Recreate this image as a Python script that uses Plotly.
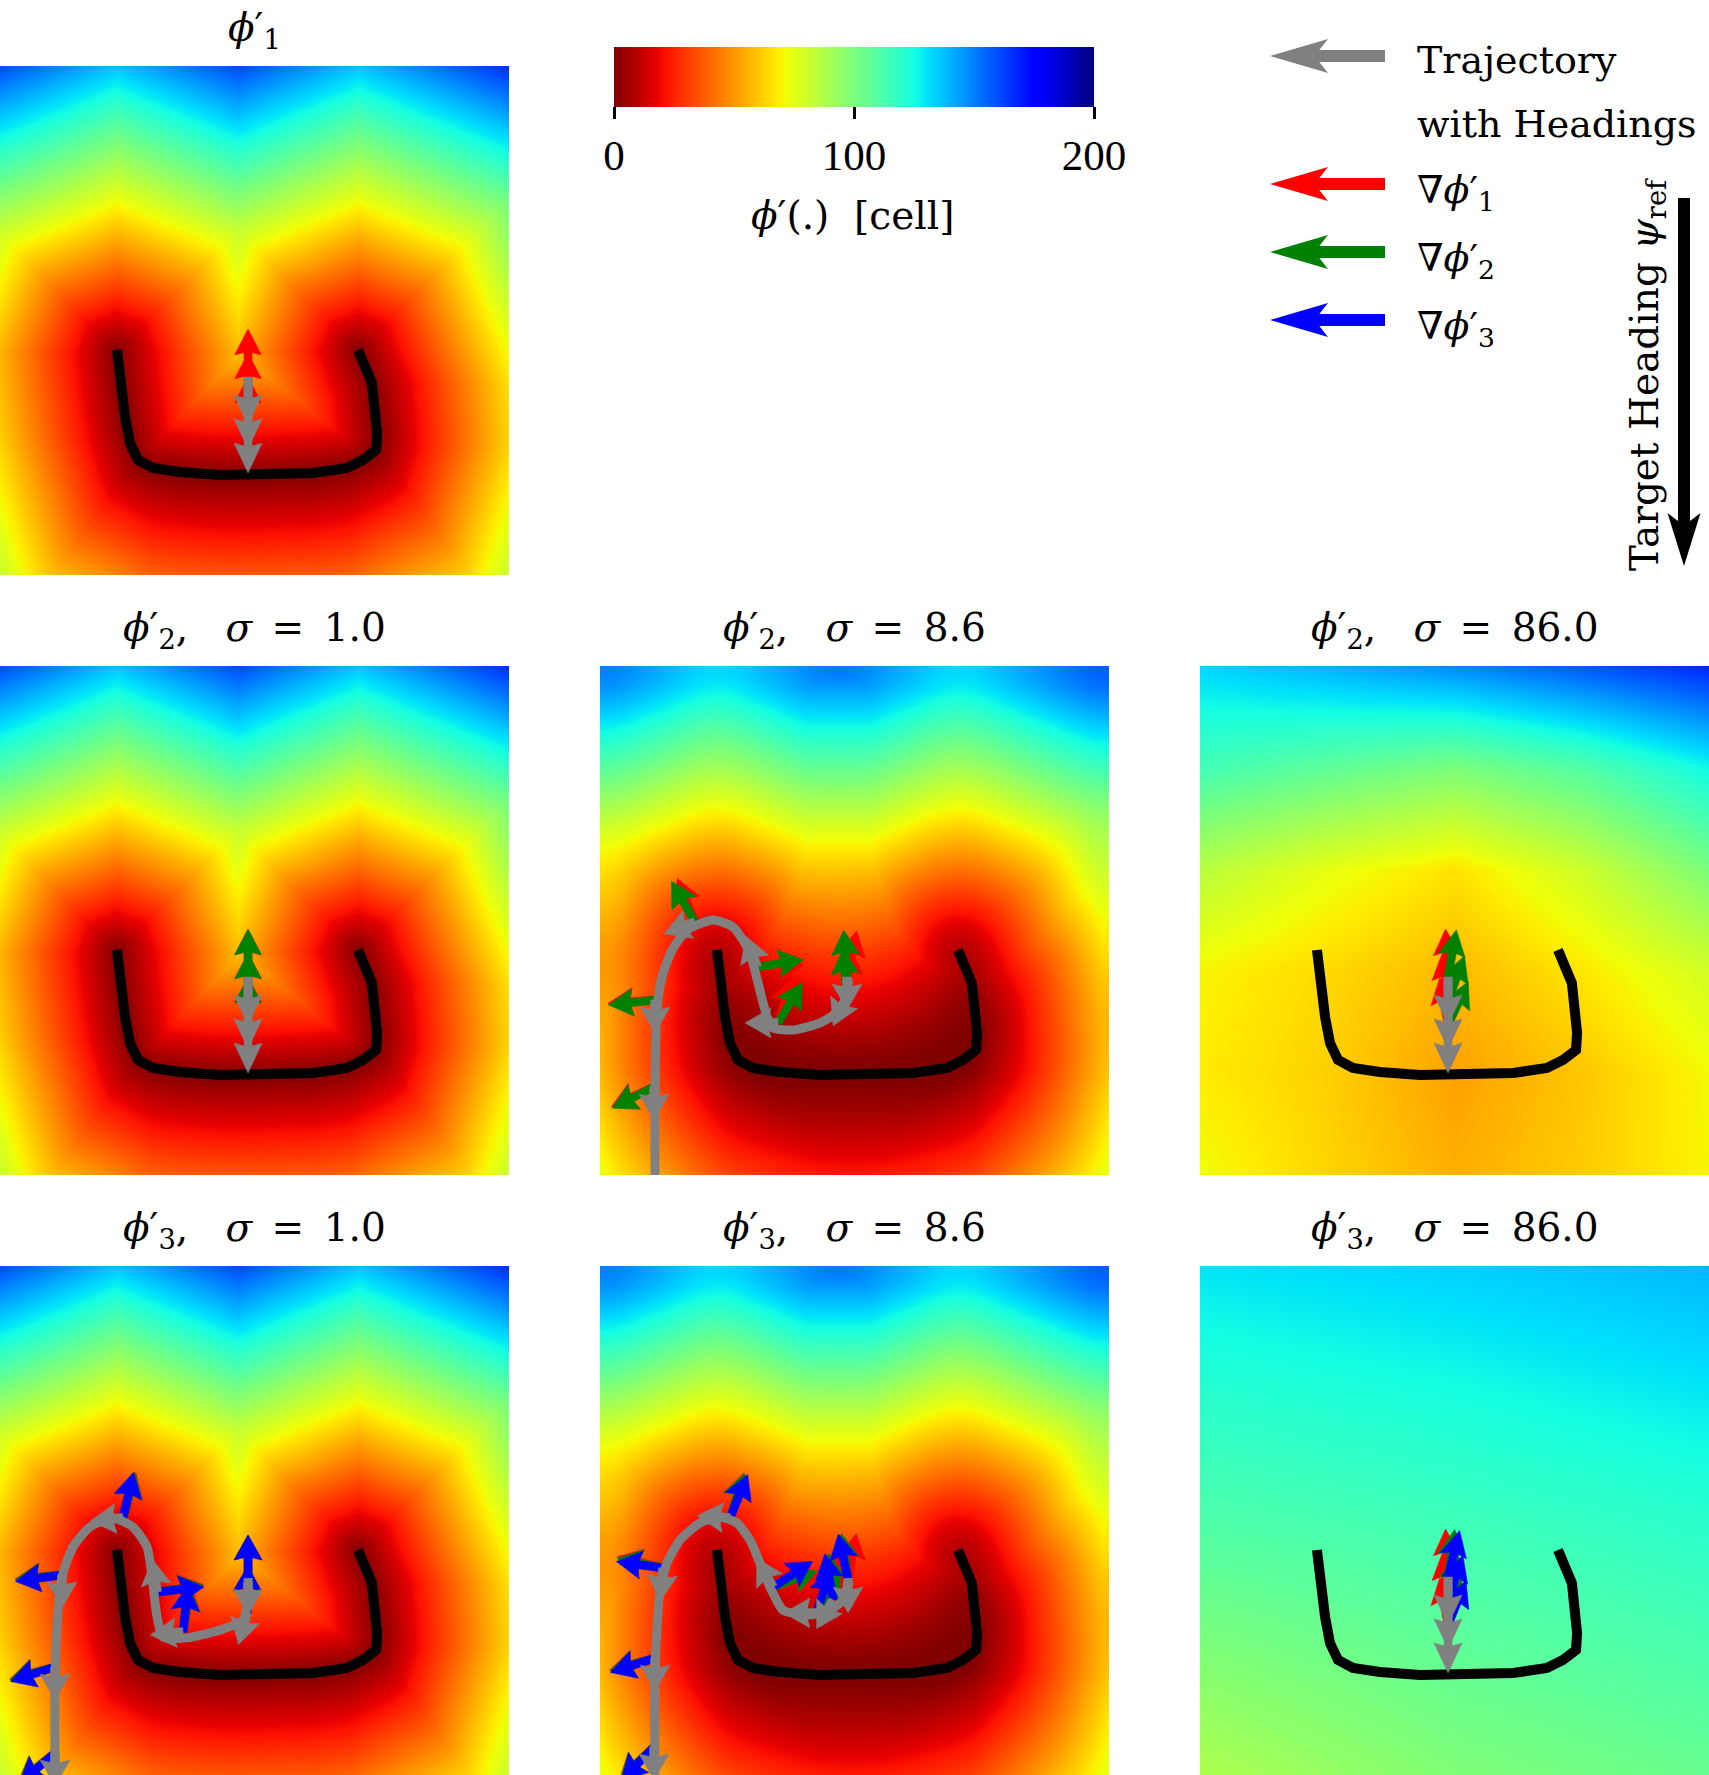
import numpy as np
import plotly.graph_objects as go

# ---------------- canvas / layout constants ----------------
FIG_W, FIG_H = 1709, 1775
PANEL_PX = 509
COL_X0 = [0, 600, 1200]
ROW_Y0 = [66, 666, 1266]
MAP_CELLS = 245.0                 # map extent shown in every panel [cell]
PX = PANEL_PX / MAP_CELLS         # pixels per cell
SERIF = "DejaVu Serif, serif"
NUMFONT = "Liberation Serif, DejaVu Serif, serif"
FS = 39

# ---------------- data ----------------
# U-shaped reference curve (cells, y pointing down)
U_X = [56.3, 57.8, 60.2, 62.6, 66.4, 73.6, 86.6, 105.9, 118.9, 150.7, 167.0, 174.7, 181.0, 181.5, 179.0, 172.3]
U_Y = [136.7, 152.6, 168.9, 181.5, 189.6, 193.5, 195.4, 196.9, 196.9, 195.9, 193.5, 189.6, 184.8, 176.6, 152.6, 136.7]

# short trajectory at the goal
SHORT_TRAJ_X = [119.4, 119.4]
SHORT_TRAJ_Y = [149.7, 172.8]
SHORT_X = [119.4, 119.4, 119.4]
SHORT_Y = [149.7, 161.2, 172.8]
SHORT_HEAD = [270, 270, 270]

P11_RED = [90, 90, 90]
P21_RED = [90, 90, 90]
P21_GREEN = [90, 90, 90]
P23_RED = [93, 97, 100]
P23_GREEN = [80, 70, 65]
P33_RED = [93, 97, 100]
P33_GREEN = [82, 78, 74]
P33_BLUE = [76, 72, 68]

# phi2, sigma = 8.6
P22_TRAJ_X = [119.4, 119.4, 115.5, 105.9, 92.9, 83.3, 80.4, 73.6, 70.8, 64.0, 54.4, 41.9, 34.7, 29.8, 27.4, 26.5, 26.5]
P22_TRAJ_Y = [150.2, 157.4, 165.6, 171.8, 175.2, 174.2, 168.9, 143.0, 135.3, 125.6, 122.3, 127.1, 136.7, 149.7, 165.6, 200.7, 250.0]
P22_X = [26.0, 26.5, 45.7, 75.6, 85.7, 118.9, 118.9]
P22_Y = [202.6, 160.8, 123.2, 144.9, 171.8, 149.7, 158.8]
P22_HEAD = [270, 270, 201, 110, 180, 270, 245]
P22_RED = [205, 184, 112, 2, 72, 78, 85]
P22_GREEN = [207, 186, 120, 9, 59, 94, 95]

# phi3, sigma = 1.0
P31_TRAJ_X = [119.4, 119.4, 117.0, 105.9, 90.0, 78.5, 75.6, 73.2, 70.8, 64.0, 54.4, 43.3, 35.1, 30.3, 27.9, 26.5, 26.5]
P31_TRAJ_Y = [150.2, 159.3, 170.4, 175.2, 179.0, 178.6, 168.9, 149.7, 135.3, 125.6, 121.3, 125.6, 135.3, 147.8, 165.6, 200.7, 250.0]
P31_X = [26.5, 26.5, 29.8, 59.2, 75.6, 88.1, 119.4, 118.9]
P31_Y = [234.4, 193.0, 148.7, 121.3, 156.9, 176.2, 152.1, 167.0]
P31_HEAD = [270, 270, 270, 185, 98, 185, 270, 255]
P31_RED = [218, 195, 185, 74, 9, 80, 90, 89]
P31_GREEN = [219, 196, 186, 75, 8, 82, 90, 89]
P31_BLUE = [221, 198, 188, 77, 6, 84, 90, 89]

# phi3, sigma = 8.6
P32_TRAJ_X = [119.4, 119.4, 117.0, 109.3, 99.6, 88.1, 81.8, 77.0, 72.2, 65.9, 57.8, 48.1, 38.5, 32.2, 28.9, 26.5, 26.5]
P32_TRAJ_Y = [150.2, 152.6, 160.8, 166.5, 168.0, 165.6, 154.5, 143.0, 131.9, 123.7, 120.8, 123.7, 131.9, 143.0, 155.9, 193.0, 250.0]
P32_X = [26.0, 26.5, 30.3, 62.6, 83.3, 104.4, 119.4, 112.2]
P32_Y = [231.5, 188.7, 145.4, 121.3, 154.5, 167.0, 151.1, 160.8]
P32_HEAD = [270, 270, 265, 176, 120, 180, 270, 240]
P32_RED = [223, 195, 166, 73, 15, 55, 80, 85]
P32_GREEN = [224, 196, 168, 72, 20, 60, 98, 95]
P32_BLUE = [226, 198, 172, 68, 33, 73, 102, 100]

# strongly smoothed fields (coarse grids, cells)
C_X = [0, 61.25, 122.5, 183.75, 245]
C_Y = [0, 49, 98, 147, 196, 245]
C_Z = [[133, 140, 148, 158, 168],
       [114, 107, 100, 110, 126],
       [85, 74, 66, 80, 100],
       [70, 64, 57, 67, 79],
       [68, 62, 52, 60, 71],
       [72, 63, 55, 61, 70]]
D_X = [0, 122.5, 245]
D_Y = [0, 122.5, 245]
D_Z = [[130, 134, 139],
       [111, 115, 120],
       [88, 99, 105]]

# field-model parameters (distance to U curve on 8-connected grid)
S_DOWN = 0.75        # compression of distance below the curve
SOFT_SIGMA = 26.0    # effective soft-min width for the sigma = 8.6 panels [cell]
SOFT_Z = 2.0
BLUR_SIGMA = 8.6     # smoothing of the sigma = 8.6 panels [cell]

TICKS = [0, 100, 200]
SP = "\u00a0"
TITLES = ["<i>ϕ</i>′<sub>1</sub>"] + [
    "<i>ϕ</i>′<sub>%d</sub>,%s<i>σ</i>\u2002=\u2002%s" % (k, SP * 3, s)
    for k in (2, 3) for s in ("1.0", "8.6", "86.0")]

# ---------------- field computation ----------------
N = 170
CELL = MAP_CELLS / N
centers = (np.arange(N) + 0.5) * CELL


def sample_curve(xs, ys, step=0.7):
    pts, ws = [], []
    for i in range(len(xs) - 1):
        x0, y0, x1, y1 = xs[i], ys[i], xs[i + 1], ys[i + 1]
        L = np.hypot(x1 - x0, y1 - y0)
        n = max(1, int(np.ceil(L / step)))
        t = (np.arange(n) + 0.5) / n
        pts.append(np.c_[x0 + (x1 - x0) * t, y0 + (y1 - y0) * t])
        ws.append(np.full(n, L / n))
    return np.vstack(pts), np.concatenate(ws)


P, Wt = sample_curve(U_X, U_Y)
GX, GY = np.meshgrid(centers, centers)
gx, gy = GX.ravel(), GY.ravel()
M = gx.size
dmin = np.empty(M)
soft = np.empty(M)
k2 = np.sqrt(2) - 1
for s in range(0, M, 3000):
    e = min(M, s + 3000)
    dx = np.abs(gx[s:e, None] - P[None, :, 0])
    dy = gy[s:e, None] - P[None, :, 1]
    ady = np.where(dy > 0, dy * S_DOWN, -dy)
    d = np.maximum(dx, ady) + k2 * np.minimum(dx, ady)
    m = d.min(axis=1)
    dmin[s:e] = m
    ssum = (Wt[None, :] * np.exp(-(d - m[:, None]) / SOFT_SIGMA)).sum(axis=1)
    soft[s:e] = m - SOFT_SIGMA * np.log(ssum / (SOFT_Z * SOFT_SIGMA))


def gblur(Z, sig_cells):
    r = int(3 * sig_cells)
    k = np.exp(-0.5 * (np.arange(-r, r + 1) / sig_cells) ** 2)
    k /= k.sum()
    Zp = np.pad(Z, ((0, 0), (r, r)), mode="reflect")
    Z1 = np.array([np.convolve(row, k, mode="valid") for row in Zp])
    Zp = np.pad(Z1, ((r, r), (0, 0)), mode="reflect")
    return np.array([np.convolve(col, k, mode="valid") for col in Zp.T]).T


A2 = dmin.reshape(N, N)
FIELD_A = np.round(A2, 1)
FIELD_B = np.round(np.clip(np.minimum(gblur(A2, BLUR_SIGMA / CELL), soft.reshape(N, N)), 0, None), 1)


# ---------------- helpers ----------------
def jet_r():
    red = [(0, 0), (0.35, 0), (0.66, 1), (0.89, 1), (1, 0.5)]
    green = [(0, 0), (0.125, 0), (0.375, 1), (0.64, 1), (0.91, 0), (1, 0)]
    blue = [(0, 0.5), (0.11, 1), (0.34, 1), (0.65, 0), (1, 0)]
    ts = sorted(set([p for p, _ in red + green + blue]))
    f = lambda seg, t: np.interp(t, [p for p, _ in seg], [v for _, v in seg])
    sc = [[1 - t, "rgb(%d,%d,%d)" % (round(f(red, t) * 255), round(f(green, t) * 255), round(f(blue, t) * 255))] for t in ts]
    sc.sort(key=lambda a: a[0])
    return sc


def arrow_local(L, sw, hw, hl, notch):
    return [(0, sw / 2), (L - hl * notch, sw / 2), (L - hl, hw / 2), (L, 0),
            (L - hl, -hw / 2), (L - hl * notch, -sw / 2), (0, -sw / 2), (0, sw / 2)]


def arrow_poly(x, y, ang, L, sw, hw, hl, notch=0.9):
    a = np.deg2rad(ang)
    ux, uy = np.cos(a), -np.sin(a)
    px, py = -uy, ux
    return [(x + ux * u + px * v, y + uy * u + py * v) for u, v in arrow_local(L, sw, hw, hl, notch)]


def arrows_trace(xs, ys, angs, color, L, sw, hw, hl, xa, ya):
    X, Y = [], []
    for x, y, a in zip(xs, ys, angs):
        for px_, py_ in arrow_poly(x, y, a, L / PX, sw / PX, hw / PX, hl / PX):
            X.append(px_)
            Y.append(py_)
        X.append(None)
        Y.append(None)
    return go.Scatter(x=X, y=Y, mode="lines", fill="toself", fillcolor=color,
                      line=dict(width=0.5, color=color), hoverinfo="skip",
                      showlegend=False, xaxis=xa, yaxis=ya)


RED, GREEN, BLUE, GRAY = "rgb(255,0,0)", "rgb(0,128,0)", "rgb(0,0,255)", "rgb(128,128,128)"

panels = [
    dict(r=0, c=0, field="A", traj=(SHORT_TRAJ_X, SHORT_TRAJ_Y), pts=(SHORT_X, SHORT_Y, SHORT_HEAD),
         grads=[(RED, P11_RED)], short=True),
    dict(r=1, c=0, field="A", traj=(SHORT_TRAJ_X, SHORT_TRAJ_Y), pts=(SHORT_X, SHORT_Y, SHORT_HEAD),
         grads=[(RED, P21_RED), (GREEN, P21_GREEN)], short=True),
    dict(r=1, c=1, field="B", traj=(P22_TRAJ_X, P22_TRAJ_Y), pts=(P22_X, P22_Y, P22_HEAD),
         grads=[(RED, P22_RED), (GREEN, P22_GREEN)], short=False),
    dict(r=1, c=2, field="C", traj=(SHORT_TRAJ_X, SHORT_TRAJ_Y), pts=(SHORT_X, SHORT_Y, SHORT_HEAD),
         grads=[(RED, P23_RED), (GREEN, P23_GREEN)], short=True),
    dict(r=2, c=0, field="A", traj=(P31_TRAJ_X, P31_TRAJ_Y), pts=(P31_X, P31_Y, P31_HEAD),
         grads=[(RED, P31_RED), (GREEN, P31_GREEN), (BLUE, P31_BLUE)], short=False),
    dict(r=2, c=1, field="B", traj=(P32_TRAJ_X, P32_TRAJ_Y), pts=(P32_X, P32_Y, P32_HEAD),
         grads=[(RED, P32_RED), (GREEN, P32_GREEN), (BLUE, P32_BLUE)], short=False),
    dict(r=2, c=2, field="D", traj=(SHORT_TRAJ_X, SHORT_TRAJ_Y), pts=(SHORT_X, SHORT_Y, SHORT_HEAD),
         grads=[(RED, P33_RED), (GREEN, P33_GREEN), (BLUE, P33_BLUE)], short=True),
]

fig = go.Figure()
layout = dict(width=FIG_W, height=FIG_H, margin=dict(l=0, r=0, t=0, b=0),
              paper_bgcolor="white", plot_bgcolor="white", showlegend=False)
annotations = []
shapes = []

for i, p in enumerate(panels, start=1):
    xa = "x" if i == 1 else "x%d" % i
    ya = "y" if i == 1 else "y%d" % i
    x0 = COL_X0[p["c"]]
    y0 = ROW_Y0[p["r"]]
    layout["xaxis" if i == 1 else "xaxis%d" % i] = dict(
        domain=[x0 / FIG_W, (x0 + PANEL_PX) / FIG_W], range=[0, MAP_CELLS], visible=False,
        fixedrange=True, anchor=ya)
    layout["yaxis" if i == 1 else "yaxis%d" % i] = dict(
        domain=[1 - (y0 + PANEL_PX) / FIG_H, 1 - y0 / FIG_H], range=[MAP_CELLS, 0], visible=False,
        fixedrange=True, anchor=xa)
    f = p["field"]
    if f == "A":
        hm = go.Heatmap(x=centers, y=centers, z=FIELD_A, coloraxis="coloraxis", zsmooth="best")
    elif f == "B":
        hm = go.Heatmap(x=centers, y=centers, z=FIELD_B, coloraxis="coloraxis", zsmooth="best")
    elif f == "C":
        hm = go.Heatmap(x=C_X, y=C_Y, z=C_Z, coloraxis="coloraxis", zsmooth="best")
    else:
        hm = go.Heatmap(x=D_X, y=D_Y, z=D_Z, coloraxis="coloraxis", zsmooth="best")
    hm.update(xaxis=xa, yaxis=ya, hoverinfo="skip")
    fig.add_trace(hm)
    fig.add_trace(go.Scatter(x=U_X, y=U_Y, mode="lines", line=dict(color="black", width=10),
                             hoverinfo="skip", xaxis=xa, yaxis=ya))
    bx, by, bh = p["pts"]
    if p["short"]:
        gL, gsw, ghw, ghl = 48, 8, 27, 26
        hL, hsw, hhw, hhl = 48, 8, 28, 30
    else:
        gL, gsw, ghw, ghl = 47, 8, 28, 25
        hL, hsw, hhw, hhl = 33, 9, 30, 26
    for col, angs in p["grads"]:
        fig.add_trace(arrows_trace(bx, by, angs, col, gL, gsw, ghw, ghl, xa, ya))
    tx, ty = p["traj"]
    fig.add_trace(go.Scatter(x=tx, y=ty, mode="lines", line=dict(color=GRAY, width=9, shape="spline", smoothing=0.6),
                             hoverinfo="skip", xaxis=xa, yaxis=ya))
    fig.add_trace(arrows_trace(bx, by, bh, GRAY, hL, hsw, hhw, hhl, xa, ya))
    annotations.append(dict(text=TITLES[i - 1], x=(x0 + PANEL_PX / 2) / FIG_W, y=1 - (y0 - 36) / FIG_H,
                            xref="paper", yref="paper", xanchor="center", yanchor="middle",
                            showarrow=False, font=dict(family=SERIF, size=FS, color="black")))

layout["coloraxis"] = dict(
    colorscale=jet_r(), cmin=0, cmax=200,
    colorbar=dict(orientation="h", x=854 / FIG_W, xanchor="center", y=1 - 47 / FIG_H, yanchor="top",
                  len=480, lenmode="pixels", thickness=60, thicknessmode="pixels",
                  outlinewidth=0, ticks="outside", ticklen=12, tickwidth=3, tickcolor="black",
                  tickvals=TICKS, ticktext=[str(t) for t in TICKS],
                  tickfont=dict(family=NUMFONT, size=43, color="black"), xpad=0, ypad=0))
annotations.append(dict(text="<i>ϕ</i>′(.)" + SP * 2 + "[cell]", x=852 / FIG_W, y=1 - 215 / FIG_H,
                        xref="paper", yref="paper", xanchor="center", yanchor="middle", showarrow=False,
                        font=dict(family=SERIF, size=FS, color="black")))


# ---------------- legend (paper coordinates via pixel positions) ----------------
def px_path(poly):
    s = ""
    for j, (x, y) in enumerate(poly):
        s += ("M" if j == 0 else "L") + " %.5f,%.5f " % (x / FIG_W, 1 - y / FIG_H)
    return s + "Z"


def px_arrow(x, y, ang, L, sw, hw, hl, notch):
    a = np.deg2rad(ang)
    ux, uy = np.cos(a), -np.sin(a)
    px, py = -uy, ux
    return [(x + ux * u + px * v, y + uy * u + py * v) for u, v in arrow_local(L, sw, hw, hl, notch)]


LEG_ITEMS = [(GRAY, 56), (RED, 184), (GREEN, 252), (BLUE, 320)]
for col, yy in LEG_ITEMS:
    shapes.append(dict(type="path", path=px_path(px_arrow(1385, yy, 180, 115, 12, 34, 58, 0.85)),
                       xref="paper", yref="paper", fillcolor=col, line=dict(width=0)))
LEG_TEXT = [("Trajectory", 60), ("with Headings", 124),
            ("∇<i>ϕ</i>′<sub>1</sub>", 192), ("∇<i>ϕ</i>′<sub>2</sub>", 260), ("∇<i>ϕ</i>′<sub>3</sub>", 328)]
for t, yy in LEG_TEXT:
    annotations.append(dict(text=t, x=1415 / FIG_W, y=1 - yy / FIG_H, xref="paper", yref="paper",
                            xanchor="left", yanchor="middle", showarrow=False,
                            font=dict(family=SERIF, size=38, color="black")))
shapes.append(dict(type="path", path=px_path(px_arrow(1684, 198, 270, 368, 12, 33, 53, 0.85)),
                   xref="paper", yref="paper", fillcolor="black", line=dict(width=0)))
annotations.append(dict(text="Target Heading <i>ψ</i><sub>ref</sub>", x=1647 / FIG_W, y=1 - 375 / FIG_H,
                        xref="paper", yref="paper", xanchor="center", yanchor="middle", textangle=-90,
                        showarrow=False, font=dict(family=SERIF, size=39, color="black")))

layout["annotations"] = annotations
layout["shapes"] = shapes
fig.update_layout(**layout)
fig.write_html("out.html")
